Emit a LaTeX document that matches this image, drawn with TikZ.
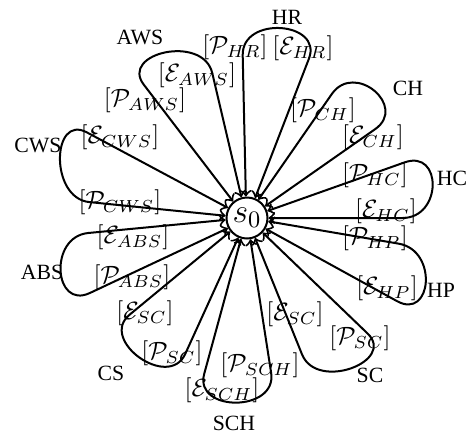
\RequirePackage{fix-cm}
\documentclass[tikz,border=0pt]{standalone}
\usepackage{fontspec}
\newfontfamily\timesf{Liberation Serif}
\usetikzlibrary{calc}
\newcommand\plab[1]{$[#1]$}
% #1 out angle, #2 first corner, #3 second corner, #4 in angle
\newcommand\petalpath[4]{%
  \draw[petal] (s0.#1) -- ($(#2)!16pt!(s0.#1)$)
    .. controls (#2) and (#3) .. ($(#3)!16pt!(s0.#4)$) -- (s0.#4);}
\begin{document}
\begin{tikzpicture}[x=0.4pt,y=0.4pt,
  petal/.style={draw, line width=0.8pt, <->},
  mlab/.style={inner sep=0pt, font=\fontsize{10}{12}\selectfont},
  olab/.style={inner sep=0pt, font=\timesf\fontsize{8.7}{10}\selectfont}]
\useasboundingbox (0,0) rectangle (469,-436);
\node[circle, draw, line width=0.8pt, minimum size=16.4pt, inner sep=0pt] (s0) at (247,-218) {\fontsize{13.5}{16}\selectfont$s_0$};
% corners of the loops
\coordinate (hrA) at (241.8,-15.3);  \coordinate (hrB) at (323.3,-21.5);
\coordinate (awA) at (119.5,-52.9);  \coordinate (awB) at (203.1,-34.1);
\coordinate (cwA) at (49.5,-198.1);  \coordinate (cwB) at (51.6,-113.5);
\coordinate (abA) at (53.7,-310);    \coordinate (abB) at (48.4,-236.8);
\coordinate (csA) at (168.6,-390.4); \coordinate (csB) at (98.6,-340.3);
\coordinate (shA) at (277.3,-412.4); \coordinate (shB) at (193.7,-412.4);
\coordinate (scA) at (396.4,-361.2); \coordinate (scB) at (317,-391.5);
\coordinate (hpA) at (438.2,-250.4); \coordinate (hpB) at (432,-320.4);
\coordinate (hcA) at (442.4,-149);   \coordinate (hcB) at (442.4,-218);
\coordinate (chA) at (354.6,-61.2);  \coordinate (chB) at (407.9,-106.2);
% loops
\petalpath{93}{hrA}{hrB}{68}
\petalpath{130}{awA}{awB}{105}
\petalpath{174}{cwA}{cwB}{152}
\petalpath{208}{abA}{abB}{185}
\petalpath{246}{csA}{csB}{219}
\petalpath{279}{shA}{shB}{254}
\petalpath{317}{scA}{scB}{292}
\petalpath{351}{hpA}{hpB}{330}
\petalpath{19.5}{hcA}{hcB}{0}
\petalpath{58}{chA}{chB}{33}
% loop labels
\node[mlab] (phr) at (235,-47)  {\plab{\mathcal{P}_{HR}}};
\node[mlab] (ehr) at (303,-48)  {\plab{\mathcal{E}_{HR}}};
\node[mlab] (eaw) at (197,-75)  {\plab{\mathcal{E}_{AWS}}};
\node[mlab] (paw) at (145,-100) {\plab{\mathcal{P}_{AWS}}};
\node[mlab] (ecw) at (120,-137) {\plab{\mathcal{E}_{CWS}}};
\node[mlab] (pcw) at (120,-202) {\plab{\mathcal{P}_{CWS}}};
\node[mlab] (eab) at (133,-237) {\plab{\mathcal{E}_{ABS}}};
\node[mlab] (pab) at (132,-277) {\plab{\mathcal{P}_{ABS}}};
\node[mlab] (ecs) at (145,-313) {\plab{\mathcal{E}_{SC}}};
\node[mlab] (pcs) at (172,-353) {\plab{\mathcal{P}_{SC}}};
\node[mlab] (psh) at (260,-365) {\plab{\mathcal{P}_{SCH}}};
\node[mlab] (esh) at (222,-390) {\plab{\mathcal{E}_{SCH}}};
\node[mlab] (esc) at (295,-314) {\plab{\mathcal{E}_{SC}}};
\node[mlab] (psc) at (360,-338) {\plab{\mathcal{P}_{SC}}};
\node[mlab] (php) at (375,-238) {\plab{\mathcal{P}_{HP}}};
\node[mlab] (ehp) at (387,-288) {\plab{\mathcal{E}_{HP}}};
\node[mlab] (phc) at (375,-175) {\plab{\mathcal{P}_{HC}}};
\node[mlab] (ehc) at (386,-211) {\plab{\mathcal{E}_{HC}}};
\node[mlab] (pch) at (323,-110) {\plab{\mathcal{P}_{CH}}};
\node[mlab] (ech) at (373,-137) {\plab{\mathcal{E}_{CH}}};
% outer names
\node[olab] (nhr) at (287,-17)  {HR};
\node[olab] (naw) at (140,-37)  {AWS};
\node[olab] (ncw) at (38,-145)  {CWS};
\node[olab] (nab) at (42,-272)  {ABS};
\node[olab] (ncs) at (111,-373) {CS};
\node[olab] (nsh) at (234,-423) {SCH};
\node[olab] (nsc) at (370,-375) {SC};
\node[olab] (nhp) at (441,-290) {HP};
\node[olab] (nhc) at (452,-178) {HC};
\node[olab] (nch) at (408,-88)  {CH};
\end{tikzpicture}
\end{document}
